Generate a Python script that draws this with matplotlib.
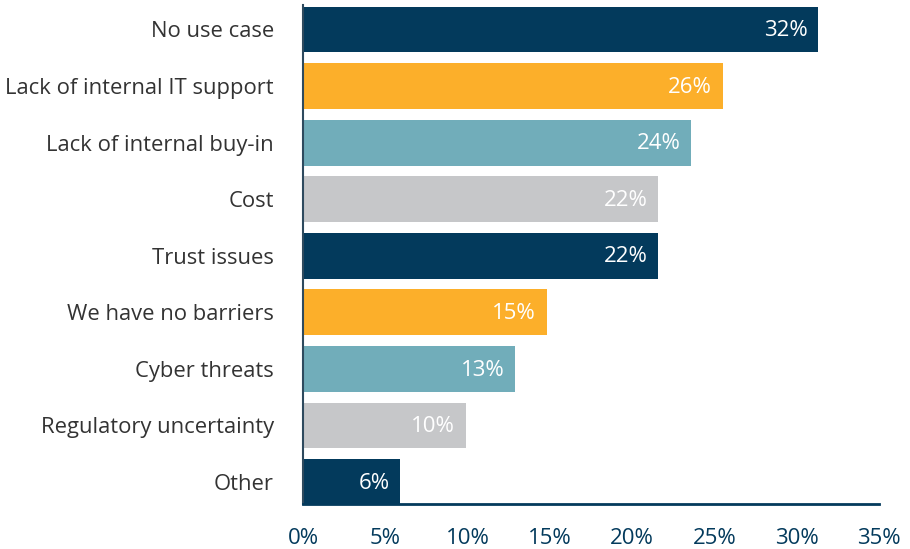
import matplotlib
matplotlib.use("Agg")
import matplotlib.pyplot as plt
from matplotlib.transforms import ScaledTranslation

categories = [
    "No use case",
    "Lack of internal IT support",
    "Lack of internal buy-in",
    "Cost",
    "Trust issues",
    "We have no barriers",
    "Cyber threats",
    "Regulatory uncertainty",
    "Other",
]
values = [31.3, 25.5, 23.6, 21.6, 21.6, 14.8, 12.9, 9.9, 5.9]
value_labels = ["32%", "26%", "24%", "22%", "22%", "15%", "13%", "10%", "6%"]
xticks = [0, 5, 10, 15, 20, 25, 30, 35]

NAVY = "#033a5c"
ORANGE = "#fcaf2a"
TEAL = "#71adba"
GRAY = "#c6c7c9"
bar_colors = [NAVY, ORANGE, TEAL, GRAY] * 2 + [NAVY]

fig = plt.figure(figsize=(9.1, 5.49), dpi=100)
ax = fig.add_axes([303 / 910, 1 - 504 / 549, (879 - 303) / 910, (504 - 5) / 549])

ypos = list(range(len(categories)))
ax.barh(ypos, values, height=0.81, color=bar_colors, zorder=2)

for y, v, lab in zip(ypos, values, value_labels):
    ax.text(v - 0.65, y + 0.02, lab, ha="right", va="center", color="white",
            fontsize=16, family="Open Sans", zorder=3)

ax.set_xlim(0, 35)
ax.set_ylim(8.389, -0.433)
ax.set_yticks(ypos)
ax.set_yticklabels(categories, fontsize=15.8, family="Open Sans", color="#333333")
shift = ScaledTranslation(0, -3 / 100, fig.dpi_scale_trans)
for lbl in ax.get_yticklabels():
    lbl.set_transform(lbl.get_transform() + shift)
ax.set_xticks(xticks)
ax.set_xticklabels([f"{t}%" for t in xticks], fontsize=16, family="Open Sans", color=NAVY)
ax.tick_params(axis="both", length=0)
ax.tick_params(axis="y", pad=21)
ax.tick_params(axis="x", pad=17)

for side in ("top", "right"):
    ax.spines[side].set_visible(False)
ax.spines["bottom"].set_color(NAVY)
ax.spines["bottom"].set_linewidth(2)
ax.spines["left"].set_color("#2e4a5e")
ax.spines["left"].set_linewidth(1.5)

fig.savefig("out.png", dpi=100)
